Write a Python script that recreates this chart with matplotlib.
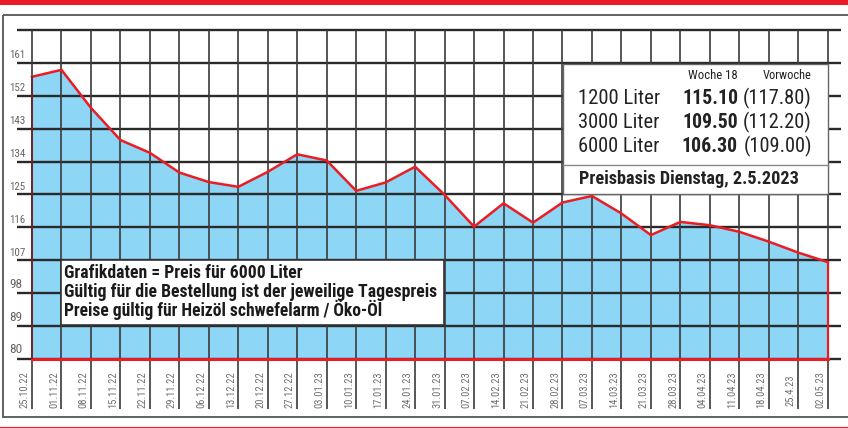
import numpy as np
import matplotlib
matplotlib.use('Agg')
import matplotlib.pyplot as plt
from matplotlib import font_manager as fm
from matplotlib.patches import Rectangle

# schmale Schrift suchen, die auch einen fetten Schnitt hat
cands = ['Roboto Condensed', 'Barlow Semi Condensed', 'Asap Condensed']
have_bold = {f.name for f in fm.fontManager.ttflist if f.weight in (700, 'bold')}
FONT = next((c for c in cands if c in have_bold), 'DejaVu Sans')
plt.rcParams['font.family'] = [FONT, 'DejaVu Sans']
plt.rcParams['font.stretch'] = 'condensed'

# Daten: Preis fuer 6000 Liter je Woche
dates = ['25.10.22', '01.11.22', '08.11.22', '15.11.22', '22.11.22', '29.11.22',
         '06.12.22', '13.12.22', '20.12.22', '27.12.22', '03.01.23', '10.01.23',
         '17.01.23', '24.01.23', '31.01.23', '07.02.23', '14.02.23', '21.02.23',
         '28.02.23', '07.03.23', '14.03.23', '21.03.23', '28.03.23', '04.04.23',
         '11.04.23', '18.04.23', '25.4.23', '02.05.23']
prices = [157.2, 159.1, 148.7, 139.9, 136.4, 131.0, 128.4, 127.1, 131.2, 136.0,
          134.3, 126.0, 128.3, 132.6, 124.9, 116.2, 122.6, 117.3, 122.8, 124.6,
          119.8, 113.9, 117.5, 116.6, 114.8, 112.1, 109.1, 106.5]
yticks = [80, 89, 98, 107, 116, 125, 134, 143, 152, 161, 170]

mengen = ['1200 Liter', '3000 Liter', '6000 Liter']
woche = ['115.10', '109.50', '106.30']
vorwoche = ['(117.80)', '(112.20)', '(109.00)']

RED = '#ec1c24'
BLUE = '#8ed6f6'
GRID = '#2a2a2a'
W, H = 848, 428

fig = plt.figure(figsize=(W / 100, H / 100), dpi=100)
renderer = fig.canvas.get_renderer()


def fit(t, width, vertical=False):
    # Schriftgroesse so anpassen, dass der Text etwa width Pixel lang ist
    bb = t.get_window_extent(renderer)
    w = bb.height if vertical else bb.width
    t.set_fontsize(t.get_fontsize() * width / w)
    return t


# Hauptdiagramm, Pixelbereich x 17..841, y 30..359
ax = fig.add_axes([17 / W, (H - 359) / H, (841 - 17) / W, (359 - 30) / H])
ax.set_xlim(-0.509, 27.45)
ax.set_ylim(80, 170)
ax.axis('off')

x = np.arange(len(prices))
ax.fill_between(x, prices, 80, color=BLUE, lw=0, zorder=1)

# Gitter
for v in yticks:
    ax.plot([-0.509, 27.45], [v, v], color=GRID, lw=1.7, zorder=2,
            clip_on=False, solid_capstyle='butt')
ylow = 80 - 50 * 90 / 329
for i in x:
    ax.plot([i, i], [ylow, 170], color='#3a3a3a', lw=1.2, zorder=2,
            clip_on=False, solid_capstyle='butt')

# Preislinie
ax.plot(x, prices, color=RED, lw=1.8, zorder=4, solid_joinstyle='miter')
ax.plot([0, x[-1]], [80, 80], color=RED, lw=2.2, zorder=4, clip_on=False)
ax.plot([x[-1], x[-1]], [80, prices[-1]], color=RED, lw=1.6, zorder=4)
ax.plot([0, 0], [80, prices[0]], color='#7a1a1a', lw=1.2, zorder=4)

# Achsenbeschriftungen
for v in yticks[:-1]:
    t = ax.text(-0.76, v + 0.7, str(v), fontsize=8.5, color='#666666',
                ha='left', va='bottom', clip_on=False)
    fit(t, 16 if v >= 100 else 13)
probe = ax.text(0, 0, dates[0], rotation=90, fontsize=8)
fit(probe, 37, vertical=True)
dsize = probe.get_fontsize()
probe.remove()
for i, d in zip(x, dates):
    ax.text(i - 0.25, 71.6, d, rotation=90, fontsize=dsize, color='#707070',
            ha='center', va='center', clip_on=False)

# Overlay in Pixelkoordinaten
ov = fig.add_axes([0, 0, 1, 1])
ov.set_xlim(0, W)
ov.set_ylim(H, 0)
ov.axis('off')
ov.patch.set_alpha(0)

ov.add_patch(Rectangle((0, 0), W, 5, color=RED, lw=0))
ov.plot([0, W], [426.5, 426.5], color=RED, lw=0.8)
ov.add_patch(Rectangle((3, 15), W + 5, 402, fill=False, ec='#555555', lw=1.3))

# Preisbox
ov.add_patch(Rectangle((562.5, 64), 265, 130, fc='white', ec='#666666', lw=1, zorder=5))
ov.plot([562.5, 827.5], [165, 165], color='#888888', lw=1, zorder=6)
fit(ov.text(738, 75, 'Woche 18', fontsize=8, ha='right', va='center',
            color='#222222', zorder=6), 50)
fit(ov.text(811, 75, 'Vorwoche', fontsize=8, ha='right', va='center',
            color='#222222', zorder=6), 49)
for k, yy in enumerate([98, 122, 146]):
    fit(ov.text(578, yy, mengen[k], fontsize=16, ha='left', va='center',
                color='#222222', zorder=6), 82)
    fit(ov.text(738, yy, woche[k], fontsize=16, fontweight='bold', ha='right',
                va='center', color='#222222', zorder=6), 56)
    fit(ov.text(812, yy, vorwoche[k], fontsize=16, ha='right', va='center',
                color='#222222', zorder=6), 69)
fit(ov.text(579, 179, 'Preisbasis Dienstag, 2.5.2023', fontsize=12.5,
            fontweight='bold', ha='left', va='center', color='#222222', zorder=6), 221)

# Hinweisbox
ov.add_patch(Rectangle((60.5, 260), 383, 65, fc='white', ec='#333333', lw=1.2, zorder=5))
notes = ['Grafikdaten = Preis für 6000 Liter',
         'Gültig für die Bestellung ist der jeweilige Tagespreis',
         'Preise gültig für Heizöl schwefelarm / Öko-Öl']
widths = [238, 373, 320]
for k, yy in enumerate([273.5, 292, 310]):
    fit(ov.text(64, yy, notes[k], fontsize=10, fontweight='bold', ha='left',
                va='center', color='#1a1a1a', zorder=6), widths[k])

fig.savefig('out.png', dpi=100)
